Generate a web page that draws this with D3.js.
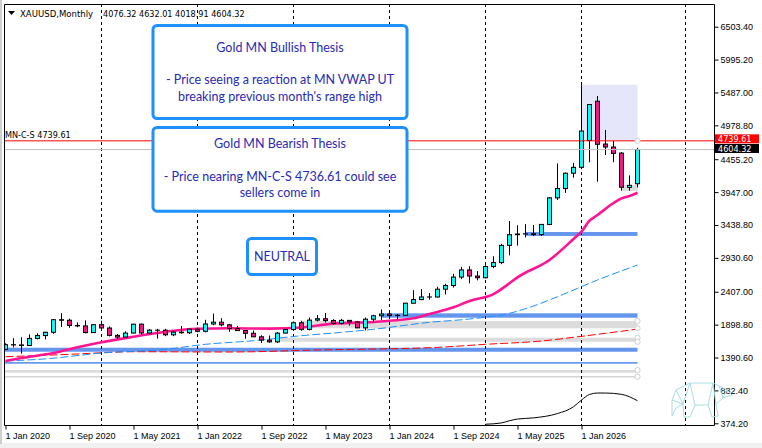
<!DOCTYPE html>
<html>
<head>
<meta charset="utf-8">
<script src="https://cdn.jsdelivr.net/npm/d3@7"></script>
<style>
  html, body { margin: 0; padding: 0; background: #fff; }
  svg { display: block; font-family: "DejaVu Sans Condensed", "Liberation Sans", Arial, sans-serif; }
  .axis text { font-size: 9px; fill: #000; }
  .axis line { stroke: #000; }
  .note { font-family: Lato, "Open Sans", sans-serif; font-size: 12.5px; fill: #2a2ab4; }
</style>
</head>
<body>
<svg id="chart" width="762" height="448"></svg>
<script>
// XAUUSD monthly bars, Jan 2020 .. Aug 2026
const opens = [
  1517, 1589, 1585, 1577, 1686, 1730, 1781, 1975, 1967, 1886, 1879, 1776,
  1898, 1847, 1733, 1707, 1769, 1906, 1770, 1814, 1813, 1742, 1783, 1774,
  1829, 1796, 1909, 1937, 1896, 1837, 1807, 1765, 1711, 1660, 1633, 1768,
  1824, 1928, 1826, 1969, 1990, 1962, 1919, 1965, 1940, 1849, 1983, 2036,
  2063, 2039, 2044, 2230, 2286, 2327, 2326, 2447, 2503, 2634, 2744, 2650,
  2624, 2798, 2858, 3124, 3289, 3300, 3303, 3290, 3448, 3858, 4002, 4239,
  4330, 4745, 5352, 4690, 4644, 4550, 4021, 4076.32
];
const highs = [
  1611, 1689, 1704, 1748, 1765, 1789, 1984, 2075, 1992, 1933, 1965, 1907,
  1959, 1871, 1755, 1797, 1912, 1916, 1832, 1834, 1834, 1814, 1877, 1831,
  1853, 1974, 2070, 1998, 1910, 1879, 1814, 1808, 1735, 1730, 1786, 1833,
  1949, 1959, 2009, 2048, 2079, 1983, 1987, 1967, 1953, 2009, 2052, 2135,
  2088, 2065, 2236, 2431, 2450, 2387, 2483, 2531, 2685, 2790, 2801, 2726,
  2817, 2956, 3148, 3500, 3435, 3452, 3439, 3453, 3872, 4390, 4250, 4400,
  5600, 5300, 5432, 4907, 4737, 4566, 4206, 4632.01
];
const lows = [
  1517, 1547, 1451, 1568, 1670, 1671, 1757, 1863, 1849, 1860, 1764, 1775,
  1802, 1717, 1677, 1706, 1766, 1750, 1750, 1684, 1721, 1721, 1759, 1753,
  1780, 1780, 1890, 1872, 1787, 1805, 1681, 1709, 1615, 1617, 1616, 1765,
  1823, 1804, 1809, 1949, 1932, 1893, 1903, 1885, 1848, 1810, 1931, 1973,
  2001, 1984, 2039, 2228, 2277, 2286, 2319, 2364, 2471, 2603, 2537, 2583,
  2614, 2772, 2833, 2970, 3121, 3247, 3268, 3268, 3436, 3825, 3935, 4170,
  4300, 4408, 4108, 4520, 4408, 3969, 3969, 4018.91
];
const closes = [
  1589, 1585, 1577, 1686, 1730, 1781, 1975, 1967, 1886, 1879, 1776, 1898,
  1847, 1733, 1707, 1769, 1906, 1770, 1814, 1813, 1742, 1783, 1774, 1829,
  1796, 1909, 1937, 1896, 1837, 1807, 1765, 1711, 1660, 1633, 1768, 1824,
  1928, 1826, 1969, 1990, 1962, 1919, 1965, 1940, 1849, 1983, 2036, 2063,
  2039, 2044, 2230, 2286, 2327, 2326, 2447, 2503, 2634, 2744, 2650, 2624,
  2798, 2858, 3124, 3289, 3300, 3303, 3290, 3448, 3858, 4002, 4239, 4330,
  4891, 5300, 4686, 4644, 4546, 4022, 4052, 4604.32
];

// [bar index, price] readings of the indicator lines
const maPink = [[0,1337],[2,1383],[6,1460],[9,1548],[12,1626],[16,1712],[20,1790],[24,1836],
  [28,1842],[33,1838],[37,1855],[41,1915],[43,1925],[46,1940],[48,1960],[51,1997],[53,2063],
  [56,2167],[58,2264],[61,2372],[63,2538],[64,2630],[68,2898],[71,3222],[72,3335],[73,3505],
  [74,3593],[76,3779],[77,3851],[78,3887],[79,3938]];
const vwapBlue = [[0,1337],[5,1370],[12,1460],[20,1518],[25,1595],[31,1650],[37,1728],[42,1780],
  [46,1827],[53,1935],[58,1986],[63,2074],[66,2187],[69,2330],[74,2589],[79,2820]];
const vwapRed = [[0,1403],[8,1440],[16,1480],[28,1476],[39,1507],[54,1548],[60,1595],[67,1646],
  [71,1703],[75,1765],[79,1830]];
const blackLine = [[60,360],[62,380],[63,414],[64,440],[66,458],[69,525],[71,630],[72,734],
  [73,820],[74,842],[75,842],[77,822],[79,723]];

// zones: [from bar, to bar, low price, high price]
const blueZones = [[65,79,3270,3330],[47,79,2006,2074],[-2,79,1480,1542],[-2,79,1295,1321]];
const grayZones = [[37,79,1842,1955],[34,79,1635,1697],[-2,79,1156,1198],[77,79,3964,4057]];
const grayLevels = [[-2,79,1094]];
const rangeBox = [72,79,4740,5607];

const symbol = 'XAUUSD,Monthly';
const lastOHLC = [4076.32, 4632.01, 4018.91, 4604.32];
const levelName = 'MN-C-S';
const levelPrice = 4739.61;
const bidPrice = 4604.32;

const priceTicks = [6503.40, 5995.20, 5487.00, 4978.80, 4455.20, 3947.00, 3438.80,
  2930.60, 2407.00, 1898.80, 1390.60, 882.40, 374.20];
const dateTicks = ['1 Jan 2020', '1 Sep 2020', '1 May 2021', '1 Jan 2022', '1 Sep 2022',
  '1 May 2023', '1 Jan 2024', '1 Sep 2024', '1 May 2025', '1 Jan 2026'];
const separatorBars = [12, 24, 36, 48, 60, 72, 85]; // MT4 puts the future one a bit off

const bullText = ['Gold MN Bullish Thesis', '', '- Price seeing a reaction at MN VWAP UT',
  "breaking previous month's range high"];
const bearText = ['Gold MN Bearish Thesis', '', '- Price nearing MN-C-S 4736.61 could see',
  'sellers come in'];
const neutralText = ['NEUTRAL'];

const svg = d3.select('#chart');
const plotL = 4, plotT = 4, plotR = 714, plotB = 425;

const x = d3.scaleLinear().domain([0, 79]).range([5.5, 637.5]);
const y = d3.scaleLinear().domain([374.2, 6503.4]).range([423.3, 26.7]);

// window chrome
svg.append('rect').attr('x', 0).attr('y', 0).attr('width', 762).attr('height', 448).attr('fill', '#fff');
svg.append('rect').attr('x', 0).attr('y', 443).attr('width', 762).attr('height', 5).attr('fill', '#f0f0f0');
svg.append('line').attr('x1', 1).attr('x2', 1).attr('y1', 0).attr('y2', 444).attr('stroke', '#a0a0a0');

svg.append('clipPath').attr('id', 'plot')
  .append('rect').attr('x', plotL).attr('y', plotT).attr('width', plotR - plotL).attr('height', plotB - plotT);
const g = svg.append('g').attr('clip-path', 'url(#plot)');

// background objects
g.append('rect')
  .attr('x', x(rangeBox[0])).attr('width', x(rangeBox[1]) - x(rangeBox[0]))
  .attr('y', y(rangeBox[3])).attr('height', y(rangeBox[2]) - y(rangeBox[3]))
  .attr('fill', '#e6e6fa');

const zone = (data, color) => g.selectAll(null).data(data).join('rect')
  .attr('x', d => x(d[0])).attr('width', d => x(d[1]) - x(d[0]))
  .attr('y', d => y(d[3])).attr('height', d => y(d[2]) - y(d[3]))
  .attr('fill', color);
zone(grayZones, '#dcdcdc');
zone(blueZones, '#6495ed');
g.selectAll(null).data(grayLevels).join('line')
  .attr('x1', d => x(d[0])).attr('x2', d => x(d[1]))
  .attr('y1', d => y(d[2])).attr('y2', d => y(d[2]))
  .attr('stroke', '#d3d3d3').attr('stroke-width', 1.5);

// period separators
g.selectAll(null).data(separatorBars).join('line')
  .attr('x1', d => Math.floor(x(d)) + 0.5).attr('x2', d => Math.floor(x(d)) + 0.5)
  .attr('y1', plotT).attr('y2', plotB)
  .attr('stroke', '#000').attr('stroke-dasharray', '3,3');

// indicator lines
const line = d3.line().x(d => x(d[0])).y(d => y(d[1])).curve(d3.curveMonotoneX);
g.append('path').attr('d', line(vwapRed)).attr('fill', 'none')
  .attr('stroke', '#ff0000').attr('stroke-dasharray', '8,3');
g.append('path').attr('d', line(vwapBlue)).attr('fill', 'none')
  .attr('stroke', '#1e90ff').attr('stroke-dasharray', '8,3');
g.append('path').attr('d', line(blackLine)).attr('fill', 'none').attr('stroke', '#000');
g.append('path').attr('d', line(maPink)).attr('fill', 'none')
  .attr('stroke', '#ff1493').attr('stroke-width', 2.6);

// candles
const bars = d3.range(opens.length);
g.selectAll(null).data(bars).join('line')
  .attr('x1', i => x(i)).attr('x2', i => x(i))
  .attr('y1', i => y(highs[i])).attr('y2', i => y(lows[i]))
  .attr('stroke', '#000');
g.selectAll(null).data(bars).join('rect')
  .attr('x', i => x(i) - 2).attr('width', 4)
  .attr('y', i => y(Math.max(opens[i], closes[i])))
  .attr('height', i => Math.abs(y(opens[i]) - y(closes[i])))
  .attr('fill', i => closes[i] >= opens[i] ? '#00ffff' : '#f0168c')
  .attr('stroke', '#000');

// level + bid lines
g.append('line').attr('x1', plotL).attr('x2', plotR)
  .attr('y1', y(bidPrice)).attr('y2', y(bidPrice)).attr('stroke', '#c0c0c0');
g.append('line').attr('x1', plotL).attr('x2', plotR)
  .attr('y1', y(levelPrice)).attr('y2', y(levelPrice)).attr('stroke', '#ff0000');

// object handles at right ends
const handles = [levelPrice, grayZones[0][3], grayZones[0][2], grayZones[1][3], grayZones[1][2],
  grayZones[2][3], grayLevels[0][2]];
g.selectAll(null).data(handles).join('circle')
  .attr('cx', x(79)).attr('cy', d => y(d)).attr('r', 2.6)
  .attr('fill', '#fff').attr('stroke', '#d0d0d0');

g.append('text').attr('x', 5).attr('y', y(levelPrice) - 3)
  .attr('font-size', 9).text(`${levelName} ${levelPrice.toFixed(2)}`);

// frame + axes
svg.append('path')
  .attr('d', `M${plotL + 0.5},${plotB + 0.5}V${plotT + 0.5}H${plotR + 0.5}V${plotB + 0.5}Z`)
  .attr('fill', 'none').attr('stroke', '#000');

const yAxis = svg.append('g').attr('class', 'axis')
  .attr('transform', `translate(${plotR + 0.5},0)`)
  .call(d3.axisRight(y).tickValues(priceTicks).tickFormat(d3.format('.2f')).tickSize(4).tickPadding(2));
yAxis.select('.domain').remove();

const xAxis = svg.append('g').attr('class', 'axis')
  .attr('transform', `translate(0,${plotB + 0.5})`)
  .call(d3.axisBottom(x).tickValues(d3.range(0, 80, 8)).tickFormat((d, k) => dateTicks[k]).tickSize(4));
xAxis.select('.domain').remove();
xAxis.selectAll('text').attr('text-anchor', 'start').attr('x', -0.5);

// price tags
const tag = (price, dy, color) => {
  const t = svg.append('g').attr('transform', `translate(715,${y(price) + dy})`);
  t.append('rect').attr('width', 44).attr('height', 9).attr('fill', color);
  t.append('text').attr('x', 3).attr('y', 8).attr('font-size', 9).attr('fill', '#fff')
    .text(price.toFixed(2));
};
tag(levelPrice, -6.5, '#ff0000');
tag(bidPrice, -5.6, '#000');

// header
svg.append('path').attr('d', 'M8,11H15L11.5,15Z').attr('fill', '#000');
svg.append('text').attr('x', 20).attr('y', 17).attr('font-size', 9.5).text(symbol);
svg.append('text').attr('x', 103).attr('y', 17).attr('font-size', 9)
  .text(lastOHLC.map(v => v.toFixed(2)).join(' '));

// thesis boxes
const note = (bx, by, bw, bh, lines, firstY, lineH) => {
  svg.append('rect').attr('x', bx).attr('y', by).attr('width', bw).attr('height', bh)
    .attr('rx', 4).attr('fill', '#fff').attr('stroke', '#1e90ff').attr('stroke-width', 3);
  svg.selectAll(null).data(lines).join('text').attr('class', 'note')
    .attr('x', bx + bw / 2).attr('y', (d, k) => firstY + k * lineH)
    .attr('text-anchor', 'middle').text(d => d);
};
note(153, 25.5, 254, 93, bullText, 51.5, 16.4);
note(153, 127.5, 254, 83.7, bearText, 147.5, 16.5);
note(247.5, 238.5, 69, 36, neutralText, 261, 16);

// bear watermark
svg.append('path')
  .attr('d', 'M676,390L690,383L713,383L719,386L727,390L732,395L723,398L716,404L718,416L712,417L708,405L695,405L690,417L684,417L683,404L676,408L672,416L672,400Z' +
    'M690,383L695,405M713,383L708,405M690,383L683,404M713,383L716,404M676,390L683,404M719,386L723,398M727,390L723,398M672,400L683,404')
  .attr('fill', 'none').attr('stroke', '#a8dce4').attr('stroke-width', 1);
</script>
</body>
</html>
